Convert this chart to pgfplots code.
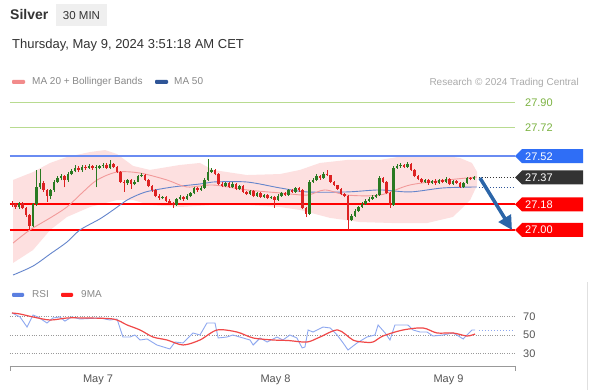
\documentclass[border=0pt]{standalone}
\usepackage{pgfplots}
\pgfplotsset{compat=1.18}
\usepackage{pgfplotstable}
\usepackage{fontspec}
\setmainfont{Liberation Sans}
\usetikzlibrary{arrows.meta}
\definecolor{cgreen}{HTML}{2A7A22}
\definecolor{cred}{HTML}{DD2222}
\definecolor{lvred}{HTML}{FF0000}
\definecolor{lvblue}{HTML}{6A8CF2}
\definecolor{tagblue}{HTML}{2F6EF6}
\definecolor{tagdark}{HTML}{333333}
\definecolor{lvgreen}{HTML}{B8DB90}
\definecolor{txgreen}{HTML}{7CB342}
\definecolor{bandfill}{HTML}{FDE0E0}
\definecolor{maRed}{HTML}{F29A9A}
\definecolor{maBlue}{HTML}{6485CC}
\definecolor{arrowblue}{HTML}{2B65A8}
\definecolor{legpink}{HTML}{F28B8B}
\definecolor{legblue}{HTML}{2F5597}
\definecolor{rsiblue}{HTML}{8EA8F0}
\definecolor{rsired}{HTML}{F04848}
\definecolor{legrsiblue}{HTML}{5B7FE0}
\definecolor{legrsired}{HTML}{FF1A1A}
\definecolor{c333}{HTML}{333333}
\definecolor{c888}{HTML}{888888}
\definecolor{caaa}{HTML}{AAAAAA}
\definecolor{c555}{HTML}{555555}
\definecolor{boxgray}{HTML}{EFEFEF}
\definecolor{axgray}{HTML}{999999}

\pgfplotstableread{
i o h l c
0 27.19 27.205 27.165 27.18
1 27.18 27.19 27.15 27.16
2 27.16 27.20 27.15 27.19
3 27.19 27.20 27.145 27.155
4 27.155 27.165 27.09 27.105
5 27.105 27.11 27.00 27.03
6 27.03 27.19 27.02 27.18
7 27.18 27.42 27.17 27.30
8 27.30 27.43 27.29 27.33
9 27.33 27.345 27.27 27.28
10 27.28 27.29 27.20 27.24
11 27.24 27.29 27.215 27.28
12 27.28 27.355 27.27 27.34
13 27.34 27.38 27.33 27.365
14 27.365 27.395 27.35 27.38
15 27.38 27.39 27.30 27.35
16 27.35 27.41 27.34 27.395
17 27.395 27.43 27.385 27.415
18 27.415 27.455 27.405 27.437
19 27.437 27.45 27.41 27.42
20 27.42 27.46 27.41 27.444
21 27.444 27.455 27.425 27.437
22 27.437 27.465 27.43 27.45
23 27.45 27.46 27.425 27.437
24 27.437 27.455 27.30 27.444
25 27.44 27.46 27.43 27.45
26 27.45 27.47 27.44 27.46
27 27.46 27.47 27.43 27.437
28 27.437 27.49 27.43 27.465
29 27.465 27.475 27.435 27.444
30 27.444 27.45 27.40 27.408
31 27.408 27.415 27.33 27.34
32 27.34 27.35 27.27 27.33
33 27.33 27.36 27.32 27.35
34 27.35 27.36 27.29 27.324
35 27.324 27.35 27.315 27.34
36 27.34 27.39 27.335 27.38
37 27.38 27.40 27.37 27.387
38 27.387 27.395 27.345 27.352
39 27.352 27.36 27.30 27.31
40 27.31 27.32 27.27 27.282
41 27.282 27.29 27.23 27.24
42 27.24 27.25 27.21 27.225
43 27.225 27.24 27.215 27.23
44 27.23 27.24 27.195 27.204
45 27.204 27.215 27.18 27.19
46 27.19 27.20 27.155 27.176
47 27.176 27.228 27.17 27.218
48 27.218 27.245 27.21 27.232
49 27.232 27.24 27.205 27.218
50 27.218 27.25 27.21 27.24
51 27.24 27.27 27.23 27.26
52 27.26 27.305 27.25 27.296
53 27.296 27.30 27.27 27.282
54 27.282 27.31 27.275 27.296
55 27.296 27.365 27.29 27.352
56 27.352 27.50 27.345 27.408
57 27.408 27.44 27.40 27.423
58 27.423 27.43 27.385 27.395
59 27.395 27.40 27.315 27.324
60 27.324 27.335 27.30 27.31
61 27.31 27.34 27.30 27.33
62 27.33 27.34 27.295 27.303
63 27.303 27.335 27.295 27.324
64 27.324 27.33 27.28 27.29
65 27.29 27.32 27.28 27.31
66 27.31 27.315 27.26 27.268
67 27.268 27.275 27.245 27.254
68 27.254 27.285 27.245 27.275
69 27.275 27.28 27.23 27.24
70 27.24 27.27 27.235 27.26
71 27.26 27.265 27.225 27.232
72 27.232 27.255 27.225 27.246
73 27.246 27.25 27.215 27.225
74 27.225 27.24 27.22 27.232
75 27.232 27.24 27.155 27.21
76 27.21 27.25 27.205 27.24
77 27.24 27.27 27.235 27.26
78 27.26 27.265 27.24 27.246
79 27.246 27.29 27.24 27.282
80 27.282 27.29 27.26 27.268
81 27.268 27.305 27.26 27.296
82 27.296 27.30 27.27 27.282
83 27.282 27.29 27.145 27.155
84 27.155 27.16 27.09 27.113
85 27.113 27.35 27.105 27.338
86 27.338 27.365 27.33 27.352
87 27.352 27.395 27.345 27.38
88 27.38 27.39 27.355 27.365
89 27.365 27.405 27.36 27.395
90 27.395 27.42 27.38 27.387
91 27.387 27.39 27.33 27.338
92 27.338 27.345 27.31 27.317
93 27.317 27.32 27.28 27.29
94 27.29 27.295 27.245 27.254
95 27.254 27.26 27.23 27.24
96 27.24 27.245 27.00 27.07
97 27.07 27.11 27.06 27.099
98 27.099 27.145 27.09 27.134
99 27.134 27.17 27.125 27.162
100 27.162 27.195 27.155 27.183
101 27.183 27.215 27.175 27.204
102 27.204 27.23 27.195 27.218
103 27.218 27.245 27.21 27.232
104 27.232 27.255 27.225 27.246
105 27.246 27.38 27.24 27.366
106 27.366 27.37 27.33 27.338
107 27.338 27.345 27.25 27.26
108 27.26 27.265 27.155 27.176
109 27.176 27.45 27.17 27.437
110 27.437 27.465 27.43 27.45
111 27.45 27.475 27.44 27.458
112 27.458 27.465 27.435 27.444
113 27.444 27.48 27.44 27.465
114 27.465 27.47 27.415 27.423
115 27.423 27.43 27.37 27.38
116 27.38 27.385 27.35 27.359
117 27.359 27.365 27.33 27.338
118 27.338 27.36 27.33 27.352
119 27.352 27.36 27.32 27.331
120 27.331 27.355 27.325 27.345
121 27.345 27.36 27.32 27.331
122 27.331 27.36 27.325 27.352
123 27.352 27.36 27.33 27.338
124 27.338 27.37 27.33 27.359
125 27.359 27.365 27.315 27.324
126 27.324 27.355 27.32 27.345
127 27.345 27.35 27.325 27.331
128 27.331 27.34 27.295 27.303
129 27.303 27.34 27.295 27.331
130 27.331 27.375 27.325 27.366
131 27.366 27.375 27.35 27.359
132 27.359 27.38 27.355 27.373
}\candles

\newcommand{\pricetag}[3]{%
  \fill[#2] (515pt,#1pt) -- (522pt,{(#1+7)*1pt}) -- (583pt,{(#1+7)*1pt}) -- (583pt,{(#1-7)*1pt}) -- (522pt,{(#1-7)*1pt}) -- cycle;
  \node[anchor=base west, inner sep=0pt, text=white, font=\fontsize{11}{13}\selectfont] at (525pt,{(#1-4)*1pt}) {#3};
}

\begin{document}
\begin{tikzpicture}
\path[use as bounding box, fill=white] (0pt,0pt) rectangle (589pt,390pt);

% header
\node[anchor=base west, inner sep=0pt, font=\fontsize{14}{16}\selectfont\bfseries, text=c333] at (10pt,370pt) {Silver};
\fill[boxgray] (56pt,364pt) rectangle (107pt,386pt);
\node[anchor=base, inner sep=0pt, font=\fontsize{11.5}{13}\selectfont, text=c333] at (81.5pt,370.5pt) {30 MIN};
\node[anchor=base west, inner sep=0pt, font=\fontsize{13}{15}\selectfont, text=c333] at (12pt,341pt) {Thursday, May 9, 2024 3:51:18 AM CET};

% legend
\fill[legpink, rounded corners=1pt] (12pt,306pt) rectangle (25pt,310pt);
\node[anchor=base west, inner sep=0pt, font=\fontsize{10}{12}\selectfont, text=c888] at (32pt,305pt) {MA 20 + Bollinger Bands};
\fill[legblue, rounded corners=1pt] (155pt,306pt) rectangle (168pt,310pt);
\node[anchor=base west, inner sep=0pt, font=\fontsize{10}{12}\selectfont, text=c888] at (174pt,305pt) {MA 50};
\node[anchor=base east, inner sep=0pt, font=\fontsize{10}{12}\selectfont, text=caaa] at (579pt,304pt) {Research © 2024 Trading Central};

\begin{axis}[at={(10pt,108pt)}, anchor=south west, scale only axis,
  width=505pt, height=187pt,
  xmin=-0.5714, xmax=143.714, ymin=26.6338, ymax=27.9507,
  axis lines=none, clip=false]
  % bollinger band
  \addplot[fill=bandfill, draw=none] coordinates {
    (0.3,27.352) (6,27.408) (10.9,27.472) (15.7,27.514) (22.3,27.549) (26.6,27.563)
    (30,27.535) (34.6,27.451) (39.4,27.423) (48,27.458) (53.7,27.472) (57.4,27.423)
    (67.1,27.387) (76.6,27.394) (82.3,27.423) (88,27.472) (95.7,27.493) (105.1,27.493)
    (113.7,27.528) (122.3,27.528) (128,27.507) (131.4,27.472) (132.9,27.408)
    (132.9,27.317) (130.9,27.211) (126,27.092) (118.6,27.049) (108.9,27.049)
    (99.4,27.056) (90.9,27.085) (82.3,27.141) (76.6,27.162) (67.1,27.176)
    (57.4,27.176) (48,27.162) (39.4,27.176) (34.6,27.211) (30,27.211) (22.3,27.162)
    (15.7,27.092) (10.9,27.000) (6,26.859) (0.3,26.768)} -- cycle;
  % level lines
  \addplot[lvgreen, line width=1pt] coordinates {(-0.5714,27.90) (143.714,27.90)};
  \addplot[lvgreen, line width=1pt] coordinates {(-0.5714,27.72) (143.714,27.72)};
  \addplot[lvblue, line width=1.6pt] coordinates {(-0.5714,27.52) (143.714,27.52)};
  \addplot[lvred, line width=2pt] coordinates {(-0.5714,27.18) (143.714,27.18)};
  \addplot[lvred, line width=2pt] coordinates {(-0.5714,27.00) (143.714,27.00)};
  % MA 50
  \addplot[maBlue, line width=0.9pt, smooth] coordinates {
    (0.3,26.683) (6,26.746) (10.9,26.831) (15.7,26.915) (19.4,27.0) (25.1,27.078)
    (28.9,27.141) (32.9,27.211) (36.6,27.254) (39.4,27.275) (46,27.303) (53.7,27.324)
    (57.4,27.338) (67.1,27.338) (76.6,27.296) (84.3,27.268) (95.7,27.268)
    (105.1,27.282) (113.7,27.268) (123.1,27.296) (132.8,27.303)};
  % MA 20
  \addplot[maRed, line width=0.9pt, smooth] coordinates {
    (0.3,26.908) (5.1,27.0) (10.9,27.085) (15.7,27.162) (20,27.261) (24.3,27.352)
    (30,27.408) (36.6,27.401) (44.3,27.352) (50,27.303) (57.4,27.317) (67.1,27.282)
    (76.6,27.261) (84.3,27.246) (89.4,27.282) (95.7,27.246) (105.1,27.246)
    (113.7,27.317) (124.3,27.352) (132.8,27.373)};
  % wicks
  \addplot[cgreen, line width=0.9pt, -, mark=none, quiver={u=0, v=\thisrow{h}-\thisrow{l}},
    restrict expr to domain={\thisrow{c}-\thisrow{o}}{0:10}] table[x=i, y=l] {\candles};
  \addplot[cred, line width=0.9pt, -, mark=none, quiver={u=0, v=\thisrow{h}-\thisrow{l}},
    restrict expr to domain={\thisrow{c}-\thisrow{o}}{-10:-0.0000001}] table[x=i, y=l] {\candles};
  % bodies
  \addplot[cgreen, line width=2.8pt, -, mark=none, quiver={u=0, v=\thisrow{c}-\thisrow{o}},
    restrict expr to domain={\thisrow{c}-\thisrow{o}}{0:10}] table[x=i, y=o] {\candles};
  \addplot[cred, line width=2.8pt, -, mark=none, quiver={u=0, v=\thisrow{c}-\thisrow{o}},
    restrict expr to domain={\thisrow{c}-\thisrow{o}}{-10:-0.0000001}] table[x=i, y=o] {\candles};
  % dotted projections
  \addplot[tagdark, line width=0.8pt, dotted] coordinates {(133.4,27.373) (143.2,27.373)};
  \addplot[legblue, line width=0.8pt, dotted] coordinates {(133.4,27.303) (143.2,27.303)};
\end{axis}

% right labels
\node[anchor=base west, inner sep=0pt, font=\fontsize{11}{13}\selectfont, text=txgreen] at (525pt,283.8pt) {27.90};
\node[anchor=base west, inner sep=0pt, font=\fontsize{11}{13}\selectfont, text=txgreen] at (525pt,258.2pt) {27.72};
\pricetag{233.8}{tagblue}{27.52}
\pricetag{212.5}{tagdark}{27.37}
\pricetag{185.6}{lvred}{27.18}
\pricetag{160}{lvred}{27.00}

% arrow
\draw[arrowblue, line width=3.5pt, -{Triangle[length=14pt, width=14pt]}] (480pt,212pt) -- (512pt,160pt);

% RSI legend
\fill[legrsiblue, rounded corners=1pt] (12pt,93pt) rectangle (24pt,97pt);
\node[anchor=base west, inner sep=0pt, font=\fontsize{10}{12}\selectfont, text=c888] at (32pt,92pt) {RSI};
\fill[legrsired, rounded corners=1pt] (61pt,93pt) rectangle (73pt,97pt);
\node[anchor=base west, inner sep=0pt, font=\fontsize{10}{12}\selectfont, text=c888] at (81pt,92pt) {9MA};

\begin{axis}[at={(10pt,24pt)}, anchor=south west, scale only axis,
  width=505pt, height=61pt,
  xmin=-0.5714, xmax=143.714, ymin=16.486, ymax=82.43,
  axis x line*=bottom, axis y line*=right,
  x axis line style={draw=axgray, line width=0.8pt},
  y axis line style={draw=none},
  major tick length=0pt,
  ytick={30,50,70}, ymajorgrids,
  grid style={dotted, draw=axgray, line width=0.7pt},
  xtick={24.57,75.29,124.71}, xticklabels={May 7, May 8, May 9},
  /pgf/number format/assume math mode=true,
  tick label style={font=\fontsize{11}{13}\selectfont, text=c555},
  xticklabel style={inner sep=0pt, anchor=north, yshift=-9pt},
  yticklabel style={inner sep=0pt, anchor=west, xshift=8pt},
  clip=false]
  \addplot[rsiblue, line width=0.9pt] coordinates {
    (0,73.8) (2.3,69.5) (4.3,58.6) (6,71.6) (7.4,69.5) (10,63) (11.7,68.4) (13.7,69.5)
    (15.1,65) (17.1,69.5) (19.4,67.3) (25.1,68.4) (28,66.2) (30,67.3) (31.7,47.8)
    (33.7,47.8) (35.1,50) (36.6,44.6) (38.6,45.7) (41.4,39.2) (45.1,34.9) (46.6,42.4)
    (48.9,41.4) (51.7,52.2) (53.7,50) (55.7,63) (58,63) (58.9,46.8) (61.4,47.8)
    (63.1,50) (65.1,47.8) (68,44.6) (68.9,39.2) (70.9,46.8) (72.9,42.4) (75.7,47.8)
    (77.4,44.6) (79.4,50) (81.4,46.8) (82.9,36) (83.7,37) (84.6,55.4) (86,53.2)
    (88.9,58.6) (90.9,57.6) (92.9,50) (94.6,41.4) (96,33.8) (98.6,41.4) (101.4,47.8)
    (103.7,50) (104.6,60.8) (106.6,52.2) (108,44.6) (109.4,60.8) (111.7,60.8)
    (113.1,60.8) (114.6,55.4) (116.6,53.2) (118.6,53.2) (120.3,48.9) (123.1,50)
    (126,52.2) (127.1,50) (128.9,45.7) (131.4,55.4) (132.3,55.4)};
  \addplot[rsired, line width=1.2pt, smooth] coordinates {
    (0,73.8) (2.3,72.7) (6,69.5) (10.9,66.2) (15.7,68.4) (20.3,68.4) (28.9,67.3)
    (32.9,60.8) (36.6,55.4) (40.3,47.8) (44.3,44.6) (48.9,39.2) (53.7,44.6)
    (58.6,55.4) (64.3,53.2) (68.9,46.8) (74.6,44.6) (79,44) (84.3,42.4) (88,47.8)
    (93.1,55.4) (97.4,44.6) (100.3,42.4) (103.1,42.4) (106,48.9) (111.7,55.4)
    (117.4,57.6) (121.4,52.2) (126,52.2) (130,48.9) (132.3,51.1)};
  \addplot[rsiblue, line width=1pt, dotted] coordinates {(133.4,55.4) (143,55.4)};
\end{axis}
\draw[axgray, line width=0.8pt] (10pt,24pt) -- (10pt,19pt);
\draw[axgray, line width=0.8pt] (515pt,24pt) -- (515pt,19pt);
\draw[black!12, line width=0.8pt] (587pt,0pt) -- (587pt,108pt);
\end{tikzpicture}
\end{document}
